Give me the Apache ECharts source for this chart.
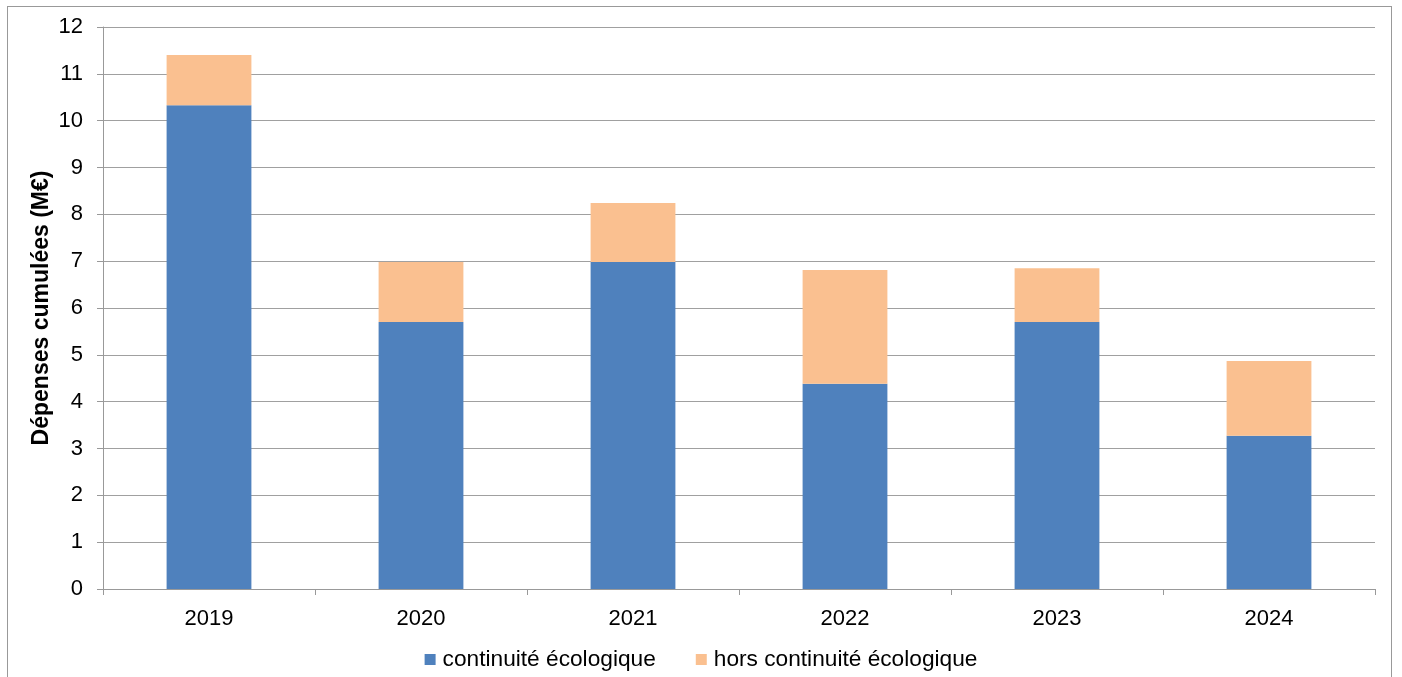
<!DOCTYPE html>
<html>
<head>
<meta charset="utf-8">
<script src="https://cdn.jsdelivr.net/npm/echarts@6/dist/echarts.min.js"></script>
<style>
html,body{margin:0;padding:0;background:#fff;}
#frame{position:absolute;left:7px;top:6px;width:1385px;height:700px;border:1px solid #999;box-sizing:border-box;}
#c{position:absolute;left:0;top:0;width:1402px;height:677px;}
</style>
</head>
<body>
<div id="frame"></div>
<div id="c"></div>
<script>
const categories = ['2019','2020','2021','2022','2023','2024'];
const continuite = [10.33, 5.70, 6.98, 4.38, 5.70, 3.27];
const horsContinuite = [1.07, 1.28, 1.26, 2.43, 1.15, 1.60];
const yTicks = [0,1,2,3,4,5,6,7,8,9,10,11,12];

const chart = echarts.init(document.getElementById('c'));
const font = 'Liberation Sans, Arial, sans-serif';
chart.setOption({
  animation: false,
  textStyle: {fontFamily: font},
  grid: {left: 103, right: 27, top: 27, bottom: 88, containLabel: false},
  legend: {
    bottom: 1, left: 'center',
    itemWidth: 11, itemHeight: 11, itemGap: 40,
    icon: 'rect',
    textStyle: {fontSize: 22.7, color: '#000', fontFamily: font, padding: [0,0,0,2]},
    data: ['continuité écologique', 'hors continuité écologique']
  },
  xAxis: {
    type: 'category',
    data: categories,
    axisLine: {lineStyle: {color: '#999', width: 1}},
    axisTick: {show: true, length: 6, lineStyle: {color: '#999'}},
    axisLabel: {fontSize: 22, color: '#000', margin: 19, fontFamily: font}
  },
  yAxis: {
    type: 'value',
    min: yTicks[0], max: yTicks[yTicks.length-1], interval: 1,
    name: 'Dépenses cumulées (M€)',
    nameLocation: 'middle',
    nameGap: 50,
    nameMoveOverlap: false,
    nameTextStyle: {fontSize: 23, fontWeight: 'bold', color: '#000', fontFamily: font},
    axisLine: {show: true, lineStyle: {color: '#999', width: 1}},
    axisTick: {show: true, length: 6, lineStyle: {color: '#999'}},
    axisLabel: {fontSize: 22, color: '#000', margin: 20, fontFamily: font},
    splitLine: {lineStyle: {color: '#a0a0a0', width: 1}}
  },
  series: [
    {name: 'continuité écologique', type: 'bar', stack: 'total', data: continuite,
     barWidth: '40%', itemStyle: {color: '#4F81BD'}},
    {name: 'hors continuité écologique', type: 'bar', stack: 'total', data: horsContinuite,
     barWidth: '40%', itemStyle: {color: '#FAC090'}}
  ]
});
</script>
</body>
</html>
